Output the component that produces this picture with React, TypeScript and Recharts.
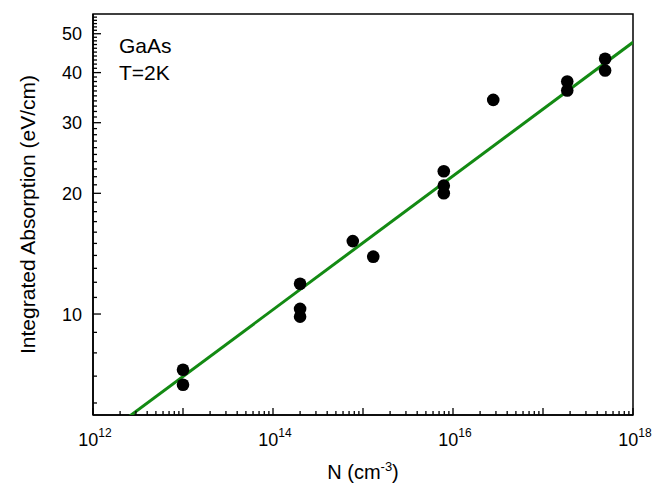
import { ScatterChart, Scatter, XAxis, YAxis, ReferenceArea, Label } from "recharts";

// measured samples (N in cm^-3, integrated absorption in eV/cm)
const sampleN = [1e13, 1e13, 2e14, 2e14, 2e14, 7.7e14, 1.3e15, 7.9e15, 7.9e15, 7.9e15, 2.8e16, 1.86e17, 1.86e17, 4.9e17, 4.9e17];
const sampleA = [7.26, 6.66, 11.9, 10.3, 9.85, 15.2, 13.9, 22.7, 20.9, 20.0, 34.2, 38.0, 36.1, 43.3, 40.5];

// fitted power law, read at both ends of the x axis
const fitN = [1e12, 1e18];
const fitA = [4.76, 47.6];

const xDomain = [1e12, 1e18];
const yDomain = [5.6, 56];
const xLabelExps = [12, 14, 16, 18];
const yLabels = [10, 20, 30, 40, 50];

const FONT = "'Liberation Sans', Arial, sans-serif";
const GREEN = "#138a13";

const points = sampleN.map((n, i) => ({ n, a: sampleA[i] }));
const fit = fitN.map((n, i) => ({ n, a: fitA[i] }));

// minor ticks 1..9 per decade on x, every integer on y
const xTicks: number[] = [];
for (let e = 12; e < 18; e++) {
  for (let d = 1; d <= 9; d++) xTicks.push(d * Math.pow(10, e));
}
xTicks.push(1e18);
const yTicks: number[] = [];
for (let v = 6; v <= 55; v++) yTicks.push(v);

function XTick(props: any) {
  const { x, y, payload } = props;
  const lg = Math.log10(payload.value);
  const exp = Math.round(lg);
  const decade = Math.abs(lg - exp) < 1e-6;
  return (
    <g>
      <line x1={x} y1={y} x2={x} y2={y - (decade ? 7 : 4)} stroke="#000" strokeWidth={1.3} />
      {decade && xLabelExps.includes(exp) && (
        <text x={x + 2} y={y + 31} textAnchor="middle" fontFamily={FONT} fontSize={18} fill="#000">
          10
          <tspan dy={-9} fontSize={12}>{exp}</tspan>
        </text>
      )}
    </g>
  );
}

function YTick(props: any) {
  const { x, y, payload } = props;
  const major = payload.value % 10 === 0;
  return (
    <g>
      <line x1={x} y1={y} x2={x + (major ? 8 : 4)} y2={y} stroke="#000" strokeWidth={1.3} />
      {yLabels.includes(payload.value) && (
        <text x={x - 11} y={y + 6.5} textAnchor="end" fontFamily={FONT} fontSize={18} fill="#000">
          {payload.value}
        </text>
      )}
    </g>
  );
}

export default function App() {
  return (
    <div style={{ position: "absolute", left: 0, top: 0, background: "#fff" }}>
      <ScatterChart width={654} height={489} margin={{ top: 14, right: 21, bottom: 0, left: 0 }}>
        <XAxis
          type="number"
          dataKey="n"
          scale="log"
          domain={xDomain}
          allowDataOverflow
          ticks={xTicks}
          interval={0}
          tick={<XTick />}
          tickLine={false}
          tickSize={0}
          tickMargin={0}
          height={74}
          axisLine={{ stroke: "#000", strokeWidth: 1.5 }}
        >
          <Label
            content={(p: any) => {
              const vb = p.viewBox;
              return (
                <text x={vb.x + vb.width / 2} y={vb.y + 64} textAnchor="middle" fontFamily={FONT} fontSize={20} fill="#000">
                  N (cm
                  <tspan dy={-8} fontSize={13}>-3</tspan>
                  <tspan dy={8}>)</tspan>
                </text>
              );
            }}
          />
        </XAxis>
        <YAxis
          type="number"
          dataKey="a"
          scale="log"
          domain={yDomain}
          allowDataOverflow
          ticks={yTicks}
          interval={0}
          tick={<YTick />}
          tickLine={false}
          tickSize={0}
          tickMargin={0}
          width={93}
          axisLine={{ stroke: "#000", strokeWidth: 1.5 }}
        >
          <Label
            content={(p: any) => {
              const vb = p.viewBox;
              const cx = vb.x + 35;
              const cy = vb.y + vb.height / 2;
              return (
                <text x={cx} y={cy} transform={`rotate(-90 ${cx} ${cy})`} textAnchor="middle" fontFamily={FONT} fontSize={21} fill="#000">
                  Integrated Absorption (eV/cm)
                </text>
              );
            }}
          />
        </YAxis>
        <ReferenceArea
          x1={xDomain[0]}
          x2={xDomain[1]}
          y1={yDomain[0]}
          y2={yDomain[1]}
          fill="none"
          fillOpacity={0}
          stroke="#000"
          strokeWidth={1.5}
          ifOverflow="visible"
          label={(p: any) => {
            const vb = p.viewBox;
            return (
              <g fontFamily={FONT} fontSize={21} fill="#000">
                <text x={vb.x + 26} y={vb.y + 39}>GaAs</text>
                <text x={vb.x + 26} y={vb.y + 66}>T=2K</text>
              </g>
            );
          }}
        />
        <Scatter
          data={fit}
          isAnimationActive={false}
          line={{ stroke: GREEN, strokeWidth: 3 }}
          lineType="joint"
          shape={() => <g />}
        />
        <Scatter
          data={points}
          isAnimationActive={false}
          shape={(p: any) => <circle cx={p.cx} cy={p.cy} r={6.3} fill="#000" />}
        />
      </ScatterChart>
    </div>
  );
}
